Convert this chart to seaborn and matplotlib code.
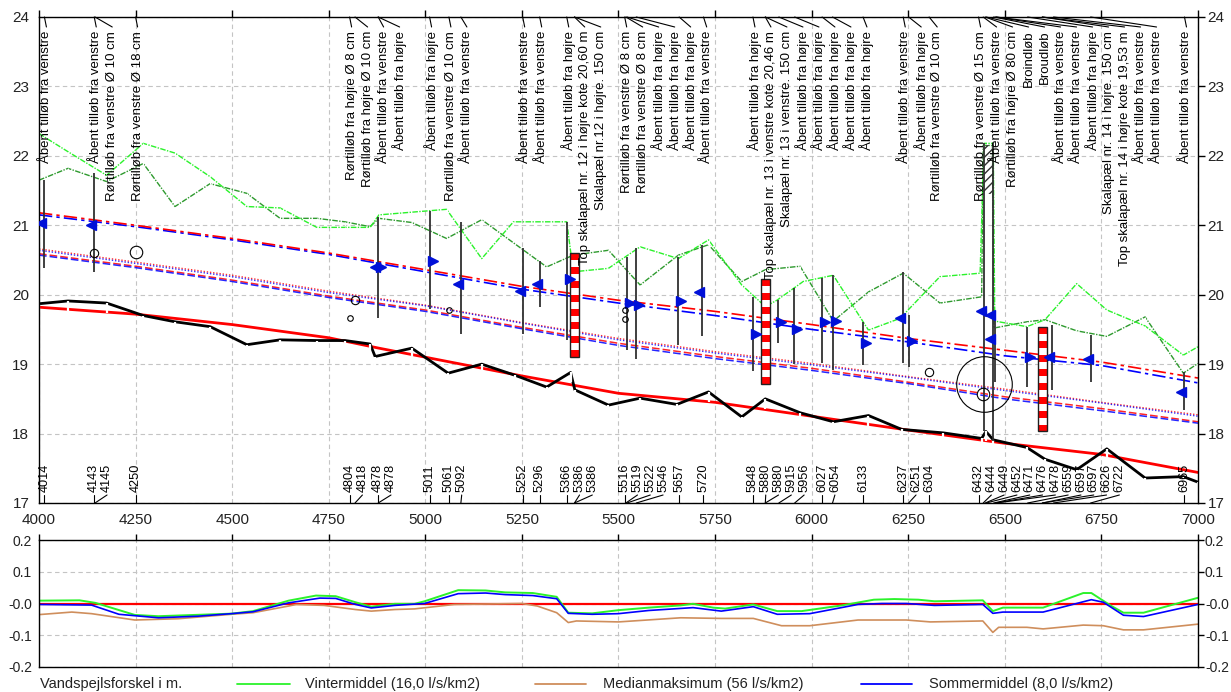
import numpy as np
import pandas as pd
import matplotlib
matplotlib.use("Agg")
import matplotlib.pyplot as plt
import seaborn as sns
from matplotlib.lines import Line2D

sns.set_theme(style="white")
plt.rcParams["font.family"] = ["Liberation Sans", "DejaVu Sans"]

# ---------------- data ----------------
bed_x = [4000, 4075, 4175, 4270, 4352, 4443, 4538, 4624, 4719, 4792, 4857, 4870, 4965, 5059, 5146,
         5232, 5314, 5376, 5387, 5474, 5556, 5651, 5733, 5819, 5880, 5970, 6056, 6147, 6233, 6341,
         6440, 6451, 6470, 6557, 6604, 6686, 6764, 6863, 6962, 7000]
bed_y = [19.87, 19.91, 19.88, 19.70, 19.61, 19.54, 19.28, 19.35, 19.34, 19.34, 19.29, 19.11, 19.23,
         18.87, 19.00, 18.84, 18.67, 18.88, 18.63, 18.41, 18.51, 18.42, 18.60, 18.24, 18.50, 18.30,
         18.17, 18.26, 18.06, 18.01, 17.93, 18.03, 17.91, 17.80, 17.63, 17.48, 17.78, 17.36, 17.38, 17.30]

design_x = [4000, 4250, 4500, 4750, 4880, 5000, 5250, 5500, 5750, 6000, 6250, 6500, 6750, 7000]
design_y = [19.82, 19.72, 19.57, 19.38, 19.23, 19.10, 18.83, 18.58, 18.45, 18.25, 18.05, 17.86, 17.70, 17.44]

ws_x = [4000, 4250, 4500, 4750, 5000, 5250, 5500, 5750, 6000, 6250, 6500, 6750, 7000]
median_a = [21.18, 21.00, 20.81, 20.60, 20.36, 20.12, 19.92, 19.76, 19.57, 19.37, 19.20, 19.03, 18.80]
median_b = [21.15, 20.98, 20.79, 20.58, 20.33, 20.08, 19.88, 19.70, 19.50, 19.32, 19.12, 18.98, 18.73]
winter_a = [20.66, 20.47, 20.28, 20.05, 19.85, 19.60, 19.37, 19.18, 19.01, 18.82, 18.64, 18.45, 18.27]
winter_b = [20.64, 20.45, 20.26, 20.03, 19.84, 19.59, 19.35, 19.16, 18.99, 18.81, 18.62, 18.44, 18.25]
summer_a = [20.59, 20.41, 20.21, 19.98, 19.78, 19.53, 19.30, 19.11, 18.94, 18.74, 18.53, 18.36, 18.17]
summer_b = [20.57, 20.39, 20.19, 19.96, 19.76, 19.51, 19.27, 19.08, 18.91, 18.72, 18.50, 18.33, 18.15]

bank1_x = [4000, 4075, 4175, 4270, 4352, 4443, 4538, 4624, 4719, 4792, 4857, 4880, 5055, 5146, 5228,
           5366, 5383, 5474, 5556, 5655, 5733, 5819, 5880, 5910, 5978, 6056, 6147, 6229, 6332, 6436,
           6446, 6470, 6474, 6557, 6604, 6686, 6764, 6863, 6962, 7000]
bank1_y = [22.32, 22.06, 21.72, 22.18, 22.04, 21.70, 21.27, 21.25, 20.97, 20.97, 20.97, 21.15, 21.23,
           20.52, 21.05, 21.05, 20.33, 20.38, 20.69, 20.52, 20.79, 20.14, 19.83, 19.92, 20.19, 20.28,
           19.49, 19.66, 20.26, 20.31, 22.18, 22.18, 19.62, 19.54, 19.64, 20.16, 19.78, 19.55, 19.13, 19.25]

bank2_x = [4000, 4075, 4175, 4270, 4352, 4443, 4538, 4624, 4719, 4792, 4857, 4880, 4965, 5055, 5146,
           5314, 5383, 5474, 5556, 5655, 5733, 5819, 5880, 5970, 6056, 6147, 6237, 6332, 6440, 6444,
           6468, 6472, 6557, 6604, 6686, 6764, 6863, 6962, 7000]
bank2_y = [21.65, 21.82, 21.63, 21.89, 21.27, 21.60, 21.46, 21.10, 21.10, 21.05, 20.98, 21.10, 21.04,
           20.81, 21.08, 20.40, 20.57, 20.64, 20.14, 20.57, 20.72, 20.19, 20.36, 20.41, 19.62, 20.04,
           20.31, 19.88, 19.97, 22.15, 22.15, 19.52, 19.61, 19.64, 19.48, 19.40, 19.68, 18.87, 19.01]

stem_x = [4014, 4143, 4878, 5011, 5092, 5252, 5296, 5366, 5521, 5545, 5655, 5717, 5847, 5914, 5953,
          6027, 6054, 6133, 6237, 6251, 6446, 6470, 6474, 6558, 6622, 6722, 6965]
stem_top = [21.65, 21.75, 21.12, 21.20, 21.05, 20.67, 20.48, 21.05, 20.55, 20.67, 20.55, 20.72, 19.97,
            19.92, 20.09, 20.24, 20.28, 19.61, 20.33, 19.71, 22.18, 22.18, 19.75, 19.54, 19.56, 19.42, 18.89]
stem_bot = [20.38, 20.32, 19.66, 19.80, 19.43, 19.43, 19.83, 19.35, 19.20, 19.08, 19.28, 19.40, 18.90,
            19.30, 19.00, 19.01, 18.92, 18.99, 19.01, 18.96, 18.03, 17.90, 18.75, 18.67, 18.63, 18.75, 18.34]

tri_x = [4014, 4143, 4878, 4878, 5011, 5092, 5252, 5296, 5366, 5521, 5545, 5655, 5717, 5847, 5914,
         5953, 6027, 6054, 6133, 6237, 6251, 6446, 6470, 6470, 6558, 6622, 6722, 6965]
tri_y = [21.03, 21.00, 20.40, 20.40, 20.48, 20.16, 20.05, 20.16, 20.22, 19.88, 19.85, 19.91, 20.04,
         19.43, 19.60, 19.50, 19.60, 19.62, 19.31, 19.66, 19.34, 19.76, 19.71, 19.36, 19.10, 19.10,
         19.08, 18.60]
tri_dir = ["L", "L", "L", "R", "R", "L", "L", "L", "R", "R", "R", "R", "L", "R", "R", "R", "R", "R",
           "R", "L", "R", "L", "L", "L", "R", "L", "L", "L"]

gauge_x = [5386, 5880, 6597]
gauge_bottom = [19.10, 18.72, 18.03]
gauge_top = [20.60, 20.22, 19.53]

circle_x = [4143, 4250, 4804, 4818, 5061, 5516, 5516, 6304, 6444, 6446]
circle_y = [20.60, 20.62, 19.67, 19.93, 19.78, 19.78, 19.65, 18.88, 18.57, 18.72]
circle_kind = ["s", "m", "xs", "s", "xs", "xs", "xs", "s", "m", "big"]

stations = [4014, 4143, 4145, 4250, 4804, 4818, 4878, 4878, 5011, 5061, 5092, 5252, 5296, 5366,
            5386, 5386, 5516, 5519, 5522, 5546, 5657, 5720, 5848, 5880, 5880, 5915, 5956, 6027,
            6054, 6133, 6237, 6251, 6304, 6432, 6444, 6449, 6452, 6471, 6476, 6478, 6559, 6597,
            6597, 6626, 6722, 6965]
station_text = [
    "Åbent tilløb fra venstre", "Åbent tilløb fra venstre", "Rørtilløb fra venstre Ø 10 cm",
    "Rørtilløb fra venstre Ø 18 cm", "Rørtilløb fra højre Ø 8 cm", "Rørtilløb fra højre Ø 10 cm",
    "Åbent tilløb fra venstre", "Åbent tilløb fra højre", "Åbent tilløb fra højre",
    "Rørtilløb fra venstre Ø 10 cm", "Åbent tilløb fra venstre", "Åbent tilløb fra venstre",
    "Åbent tilløb fra venstre", "Åbent tilløb fra højre", "Top skalapæl nr. 12 i højre kote 20,60 m",
    "Skalapæl nr.12 i højre. 150 cm", "Rørtilløb fra venstre Ø 8 cm", "Rørtilløb fra venstre Ø 8 cm",
    "Åbent tilløb fra højre", "Åbent tilløb fra højre", "Åbent tilløb fra højre",
    "Åbent tilløb fra venstre", "Åbent tilløb fra højre", "Top skalapæl nr. 13 i venstre kote 20,46 m",
    "Skalapæl nr. 13 i venstre. 150 cm", "Åbent tilløb fra højre", "Åbent tilløb fra højre",
    "Åbent tilløb fra højre", "Åbent tilløb fra højre", "Åbent tilløb fra højre",
    "Åbent tilløb fra venstre", "Åbent tilløb fra højre", "Rørtilløb fra venstre Ø 10 cm",
    "Rørtilløb fra venstre Ø 15 cm", "Åbent tilløb fra venstre", "Rørtilløb fra højre Ø 80 cm",
    "Broindløb", "Broudløb", "Åbent tilløb fra venstre", "Åbent tilløb fra venstre",
    "Åbent tilløb fra højre", "Skalapæl nr. 14 i højre. 150 cm", "Top skalapæl nr. 14 i højre kote 19,53 m",
    "Åbent tilløb fra venstre", "Åbent tilløb fra venstre", "Åbent tilløb fra venstre"]

# lower panel: water level differences
diff_w_x = [4000, 4105, 4146, 4248, 4309, 4498, 4554, 4646, 4717, 4768, 4819, 4860, 4921, 4972, 4998,
            5085, 5156, 5207, 5278, 5340, 5370, 5432, 5500, 5578, 5661, 5693, 5745, 5776, 5849, 5911,
            5974, 6078, 6161, 6214, 6276, 6318, 6443, 6469, 6495, 6599, 6703, 6724, 6776, 6807, 6859, 7000]
diff_w_y = [0.009, 0.010, 0.002, -0.036, -0.040, -0.032, -0.024, 0.009, 0.025, 0.023, 0.004, -0.010,
            -0.001, -0.001, 0.007, 0.042, 0.041, 0.035, 0.033, 0.021, -0.029, -0.031, -0.021, -0.013,
            -0.006, -0.001, -0.013, -0.016, -0.003, -0.024, -0.024, -0.006, 0.012, 0.014, 0.012, 0.007,
            0.010, -0.024, -0.013, -0.013, 0.033, 0.033, -0.008, -0.029, -0.029, 0.018]
diff_s_x = [4000, 4136, 4207, 4309, 4411, 4498, 4554, 4646, 4727, 4768, 4819, 4860, 4921, 4998, 5085,
            5156, 5207, 5278, 5340, 5370, 5432, 5500, 5578, 5693, 5766, 5849, 5911, 5995, 6120, 6182,
            6245, 6318, 6443, 6469, 6495, 6599, 6724, 6755, 6807, 6859, 7000]
diff_s_y = [-0.003, -0.005, -0.034, -0.045, -0.040, -0.032, -0.026, 0.002, 0.017, 0.016, -0.003, -0.014,
            -0.006, 0.000, 0.031, 0.033, 0.028, 0.025, 0.015, -0.031, -0.034, -0.032, -0.022, -0.013,
            -0.024, -0.010, -0.034, -0.032, -0.003, 0.000, 0.000, -0.006, -0.003, -0.031, -0.027, -0.027,
            0.012, 0.004, -0.037, -0.041, -0.003]
diff_m_x = [4000, 4085, 4136, 4248, 4360, 4498, 4554, 4646, 4666, 4738, 4819, 4860, 4921, 4972, 5075,
            5250, 5290, 5340, 5370, 5391, 5500, 5661, 5766, 5849, 5922, 5995, 6120, 6245, 6307, 6443,
            6469, 6484, 6557, 6599, 6703, 6755, 6807, 6859, 7000]
diff_m_y = [-0.035, -0.027, -0.032, -0.052, -0.048, -0.034, -0.029, -0.008, -0.003, -0.006, -0.019,
            -0.024, -0.019, -0.017, -0.003, 0.000, -0.008, -0.029, -0.060, -0.055, -0.058, -0.045,
            -0.047, -0.047, -0.070, -0.070, -0.052, -0.052, -0.058, -0.055, -0.091, -0.075, -0.075,
            -0.080, -0.068, -0.070, -0.083, -0.083, -0.065]

legend_title = "Vandspejlsforskel i m."
legend_labels = ["Vintermiddel (16,0 l/s/km2)", "Medianmaksimum (56 l/s/km2)", "Sommermiddel (8,0 l/s/km2)"]

# ---------------- styles ----------------
C_LIGHT = "#2bf22b"
C_DARK = "#2e9a2e"
C_RED = "#ff0000"
C_BLUE = "#0000ff"
C_BROWN = "#cf8e5c"
C_TRI = "#0010d8"

W, H = 1231, 692
fig = plt.figure(figsize=(W / 100, H / 100), dpi=100)
fig.patch.set_facecolor("white")
ax = fig.add_axes([39 / W, 1 - 503 / H, 1159 / W, 486 / H])
ax2 = fig.add_axes([39 / W, 1 - 667 / H, 1159 / W, 127 / H])

PX = 3000 / 1159.0   # data units per pixel (x)
PY = 7 / 486.0       # data units per pixel (y)

for a in (ax, ax2):
    a.set_facecolor("white")
    a.grid(True, color="#c4c4c4", linestyle=(0, (4, 3)), linewidth=0.8)
    a.set_axisbelow(True)
    for s in a.spines.values():
        s.set_color("black")
        s.set_linewidth(1.0)
    a.set_xlim(4000, 7000)
    a.set_xticks(np.arange(4000, 7001, 250))

ax.set_ylim(17, 24)
ax.set_yticks(range(17, 25))
ax.tick_params(direction="out", length=5, width=1, top=True, right=True, labelright=True,
               labelsize=11, colors="black", labelcolor="#222222", pad=2)

ax2.set_ylim(-0.2, 0.2)
ax2.set_yticks([-0.2, -0.1, 0.0, 0.1, 0.2])
ax2.set_yticklabels(["-0.2", "-0.1", "-0.0", "0.1", "0.2"])
ax2.tick_params(direction="out", length=4, width=1, top=True, bottom=False, right=True,
                labelright=True, labelbottom=False, labelsize=10, colors="black",
                labelcolor="#222222", pad=1)

# water surface lines
def line(a, x, y, **kw):
    sns.lineplot(x=x, y=y, ax=a, sort=False, estimator=None, legend=False, **kw)

line(ax, ws_x, winter_a, color=C_RED, lw=1.0, linestyle=(0, (1, 1.3)), alpha=0.8)
line(ax, ws_x, winter_b, color=C_BLUE, lw=1.0, linestyle=(0, (1, 1.3)), alpha=0.8)
line(ax, ws_x, summer_a, color=C_RED, lw=1.1, linestyle=(0, (5, 2)), alpha=0.85)
line(ax, ws_x, summer_b, color=C_BLUE, lw=1.1, linestyle=(0, (5, 2)), alpha=0.85)
line(ax, ws_x, median_b, color=C_BLUE, lw=1.2, linestyle=(0, (8, 2.5, 2, 2.5)))
line(ax, ws_x, median_a, color=C_RED, lw=1.2, linestyle=(0, (8, 2.5, 2, 2.5)))

# banks
line(ax, bank2_x, bank2_y, color=C_DARK, lw=1.0, linestyle=(0, (4, 1, 1, 1)),
     marker=3, markersize=5, markeredgewidth=0.8)
line(ax, bank1_x, bank1_y, color=C_LIGHT, lw=1.0, linestyle=(0, (4, 1, 1, 1)),
     marker=3, markersize=5, markeredgewidth=0.8)

# design line and bed
line(ax, design_x, design_y, color=C_RED, lw=2.0)
line(ax, bed_x, bed_y, color="black", lw=2.0, marker=3, markersize=7, markeredgewidth=1.6)

# stems
ax.vlines(stem_x, stem_bot, stem_top, colors="#303030", linewidth=1.3, zorder=4)

# hatch in the bridge structure
ax.bar([6458], [0.70], bottom=[21.45], width=22, fill=False, hatch="////",
       edgecolor="#303030", linewidth=0, zorder=4)

# triangles
for x, y, d in zip(tri_x, tri_y, tri_dir):
    off = 3.0 * PX if d == "R" else -3.0 * PX
    ax.plot([x + off], [y], marker=">" if d == "R" else "<", markersize=6.5,
            color=C_TRI, markeredgecolor=C_TRI, zorder=6)

# gauges (skalapæle)
for gx, gb, gt in zip(gauge_x, gauge_bottom, gauge_top):
    n = int(round((gt - gb) / 0.1))
    bottoms = [gt - 0.1 * (i + 1) for i in range(n)]
    cols = [C_RED if i % 2 == 0 else "white" for i in range(n)]
    ax.bar([gx] * n, [0.1] * n, bottom=bottoms, width=9 * PX, color=cols, linewidth=0, zorder=5)
    ax.bar([gx], [gt - gb], bottom=[gb], width=9 * PX, fill=False, edgecolor="#202020",
           linewidth=1.0, zorder=5)

# circles
csize = {"xs": 4, "s": 6, "m": 9, "big": 40}
for x, y, k in zip(circle_x, circle_y, circle_kind):
    ax.plot([x], [y], marker="o", markersize=csize[k], markerfacecolor="none",
            markeredgecolor="black", markeredgewidth=0.8, zorder=6)

# top annotations with leader lines
prev = -1e9
gap_top = 16 * PX
for st, txt in zip(stations, station_text):
    tx = max(st + 2 * PX, prev + gap_top)
    prev = tx
    ax.plot([st, tx], [24, 24 - 10 * PY], color="black", lw=0.8, zorder=7, clip_on=False)
    ax.text(tx, 24 - 14 * PY, txt, rotation=90, ha="center", va="top", fontsize=9.5,
            color="black", zorder=8)

# bottom station labels
prev = -1e9
gap_bot = 12.8 * PX
for st in stations:
    tx = max(st, prev + gap_bot)
    prev = tx
    ax.plot([st, tx], [17, 17 + 8 * PY], color="black", lw=0.8, zorder=7)
    ax.text(tx, 17 + 11 * PY, str(st), rotation=90, ha="center", va="bottom", fontsize=9.2,
            color="black", zorder=8)

# lower panel
ax2.axhline(0, color=C_RED, lw=1.6, zorder=2)
line(ax2, diff_m_x, diff_m_y, color=C_BROWN, lw=1.2)
line(ax2, diff_w_x, diff_w_y, color=C_LIGHT, lw=1.4)
line(ax2, diff_s_x, diff_s_y, color=C_BLUE, lw=1.2)
for a in (ax, ax2):
    a.set_xlabel("")
    a.set_ylabel("")

# legend row
ly = 1 - 684 / H
fig.text(40 / W, ly, legend_title, va="center", ha="left", fontsize=10.5, color="#222222")
for (x0, x1, tx), col, lab in zip([(237, 290, 305), (535, 586, 603), (861, 912, 929)],
                                  [C_LIGHT, C_BROWN, C_BLUE], legend_labels):
    fig.add_artist(Line2D([x0 / W, x1 / W], [ly, ly], color=col, lw=1.3, transform=fig.transFigure))
    fig.text(tx / W, ly, lab, va="center", ha="left", fontsize=10.5, color="#222222")

fig.savefig("out.png", dpi=100, facecolor="white")
